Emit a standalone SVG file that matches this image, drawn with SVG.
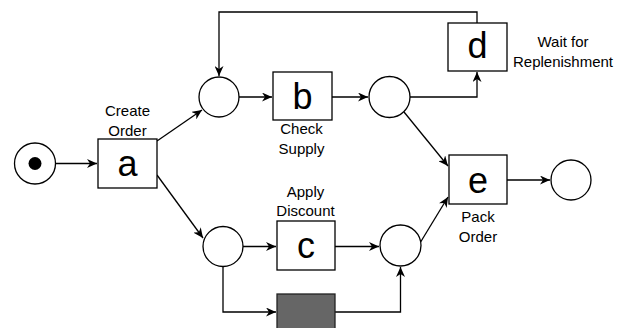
<svg xmlns="http://www.w3.org/2000/svg" width="631" height="328" viewBox="0 0 631 328">
<defs>
<marker id="arr" viewBox="0 0 10 9" refX="10" refY="4.5" markerWidth="10" markerHeight="9" markerUnits="userSpaceOnUse" orient="auto">
<path d="M0,0 L10,4.5 L0,9 L3,4.5 z" fill="#000"/>
</marker>
</defs>
<style>
.place{fill:#fff;stroke:#000;stroke-width:1.3}
.trans{fill:#fff;stroke:#000;stroke-width:1.3}
.silent{fill:#666;stroke:#222;stroke-width:1.3}
.big{font-family:"Liberation Sans",Arial,sans-serif;font-size:36px;text-anchor:middle;fill:#000}
.lbl{font-family:"Liberation Sans",Arial,sans-serif;font-size:15px;text-anchor:middle;fill:#000}
.arc{fill:none;stroke:#000;stroke-width:1.3;marker-end:url(#arr)}
</style>
<rect width="631" height="328" fill="#fff"/>
<g id="connectors">
<path class="arc" d="M56,163.5 L97,163.5"/>
<path class="arc" d="M157,141 L202,110"/>
<path class="arc" d="M157,175 L203,238"/>
<path class="arc" d="M239,97 L272,97"/>
<path class="arc" d="M332,97 L368,97"/>
<path class="arc" d="M410,97 L477,97 L477,72"/>
<path class="arc" d="M477,23 L477,12 L219,12 L219,76"/>
<path class="arc" d="M404,112 L448,166"/>
<path class="arc" d="M243,246.5 L276,246.5"/>
<path class="arc" d="M335,246.5 L379,246.5"/>
<path class="arc" d="M420,243 L448,197"/>
<path class="arc" d="M223,267 L223,312 L276,312"/>
<path class="arc" d="M335,312 L400.5,312 L400.5,267"/>
<path class="arc" d="M507,180 L550,180"/>
</g>
<g id="start">
<circle class="place" cx="35" cy="163.5" r="20.5"/>
<circle cx="35" cy="163.5" r="6.5" fill="#000"/>
</g>
<g id="a">
<rect class="trans" x="98" y="139" width="59" height="49"/>
<text class="big" x="127.5" y="176">a</text>
<text class="lbl" x="127.5" y="116">Create</text>
<text class="lbl" x="127.5" y="136">Order</text>
</g>
<g id="p1"><circle class="place" cx="219" cy="97" r="20"/></g>
<g id="b">
<rect class="trans" x="273" y="72" width="59" height="48"/>
<text class="big" x="302.5" y="109">b</text>
<text class="lbl" x="301.5" y="134">Check</text>
<text class="lbl" x="301.5" y="154">Supply</text>
</g>
<g id="p2"><circle class="place" cx="389.5" cy="97" r="20.5"/></g>
<g id="d">
<rect class="trans" x="448" y="23" width="59" height="48"/>
<text class="big" x="477.5" y="58">d</text>
<text class="lbl" x="563" y="46.5">Wait for</text>
<text class="lbl" x="563" y="66.5">Replenishment</text>
</g>
<g id="p3"><circle class="place" cx="223" cy="246.5" r="20"/></g>
<g id="c">
<rect class="trans" x="277" y="221" width="58" height="49"/>
<text class="big" x="306" y="258">c</text>
<text class="lbl" x="305.5" y="196.5">Apply</text>
<text class="lbl" x="305.5" y="216">Discount</text>
</g>
<g id="silent">
<rect class="silent" x="277" y="294" width="58" height="48"/>
</g>
<g id="p4"><circle class="place" cx="400.5" cy="245.5" r="20.5"/></g>
<g id="e">
<rect class="trans" x="449" y="155" width="58" height="49"/>
<text class="big" x="478" y="193">e</text>
<text class="lbl" x="478" y="221.5">Pack</text>
<text class="lbl" x="478" y="241.5">Order</text>
</g>
<g id="end"><circle class="place" cx="571" cy="180" r="20"/></g>
</svg>
